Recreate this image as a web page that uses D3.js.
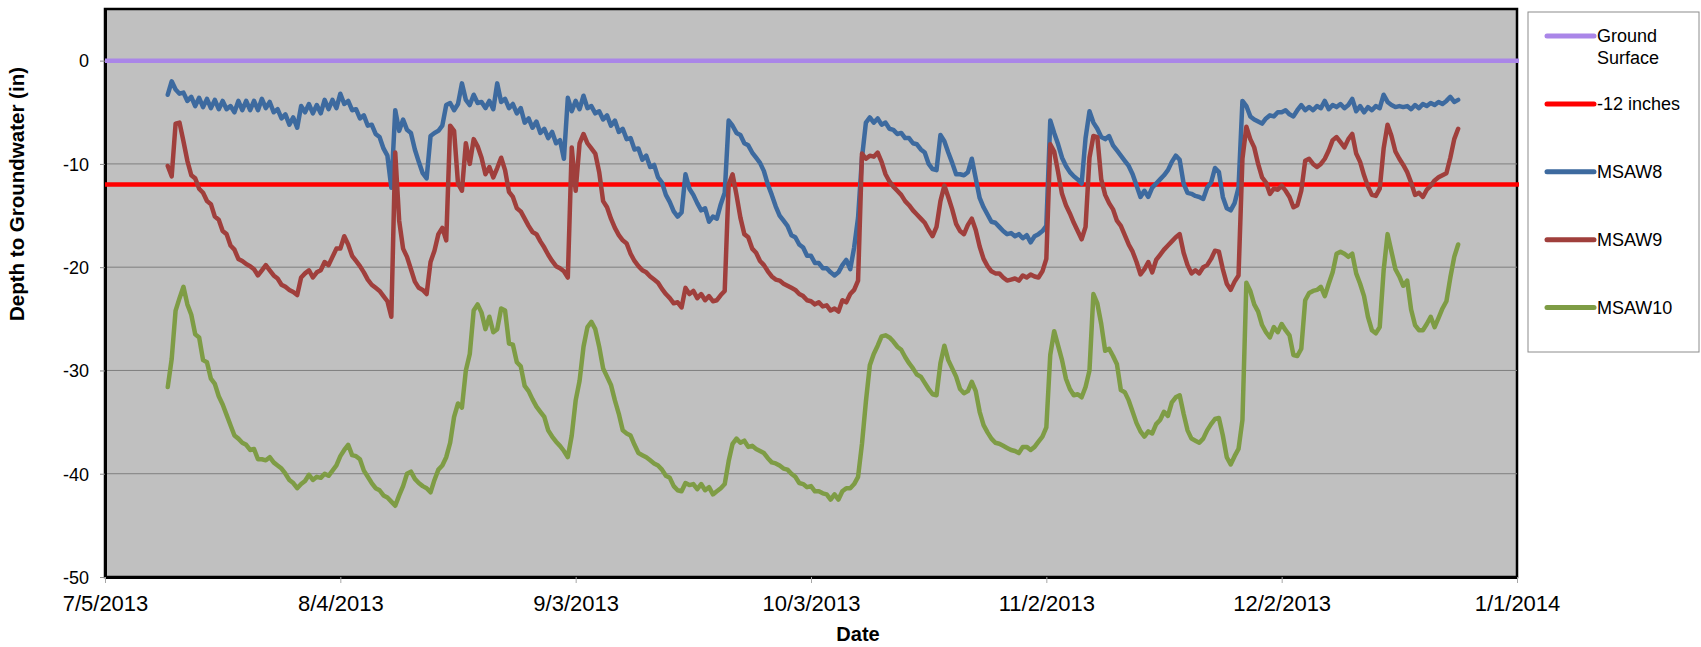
<!DOCTYPE html>
<html>
<head>
<meta charset="utf-8">
<script src="https://cdn.jsdelivr.net/npm/d3@7"></script>
<style>
    body { margin: 0; background: #ffffff; }
    svg text { font-family: "Liberation Sans", Arial, sans-serif; fill: #000; }
</style>
</head>
<body>
<div id="groundwater"></div>
<script>

// well readings, one every 12 hours, first one at 7/13/2013 00:00
var startDate = "7/13/2013";
var stepHours = 12;

var msaw8 = [
    -3.3,-2.0,-2.8,-3.2,-3.1,-3.9,-3.5,-4.4,-3.6,-4.5,-3.7,-4.6,-3.8,-4.7,-3.9,-4.7,-4.4,-5.0,-3.9,-4.8,
    -3.9,-4.8,-3.9,-4.8,-3.7,-4.6,-4.0,-5.0,-4.7,-5.6,-5.2,-6.2,-5.5,-6.5,-4.4,-5.0,-4.2,-5.1,-4.3,-5.1,
    -3.8,-4.7,-3.8,-4.6,-3.2,-4.2,-3.9,-4.8,-4.7,-5.6,-5.3,-6.3,-6.2,-7.1,-7.4,-8.5,-9.2,-12.3,-4.8,-6.8,
    -5.7,-6.7,-7.0,-8.6,-9.8,-10.9,-11.4,-7.3,-7.0,-6.8,-6.3,-4.3,-4.1,-4.8,-4.2,-2.2,-3.8,-4.3,-3.3,-4.1,
    -4.0,-4.6,-3.9,-4.7,-2.2,-4.0,-3.7,-4.6,-4.2,-5.1,-4.6,-6.0,-5.6,-6.5,-5.9,-7.0,-6.6,-7.5,-6.9,-8.0,
    -7.7,-9.5,-3.6,-4.9,-3.9,-4.7,-3.4,-4.6,-4.4,-5.1,-4.9,-5.7,-5.3,-6.3,-5.8,-6.9,-6.6,-7.6,-7.5,-8.6,
    -8.5,-9.6,-9.2,-10.3,-10.1,-11.3,-11.8,-13.0,-13.7,-14.6,-15.1,-14.7,-11.0,-12.4,-13.0,-13.8,-14.5,-14.3,-15.6,-15.1,
    -15.3,-13.9,-12.8,-5.8,-6.3,-7.0,-7.2,-8.0,-8.2,-8.9,-9.4,-9.9,-10.7,-12.0,-13.0,-14.1,-15.0,-15.5,-16.0,-16.9,
    -17.1,-17.8,-18.1,-18.9,-18.9,-19.6,-19.6,-20.1,-20.1,-20.5,-20.8,-20.5,-19.8,-19.3,-20.2,-18.1,-15.2,-9.4,-6.0,-5.5,
    -6.0,-5.6,-6.2,-6.0,-6.6,-6.7,-7.1,-7.0,-7.5,-7.5,-8.0,-8.1,-8.6,-8.9,-10.0,-10.5,-10.6,-7.2,-7.8,-8.9,
    -9.9,-11.0,-11.0,-11.1,-10.8,-9.5,-11.4,-13.3,-14.2,-14.9,-15.6,-15.7,-16.1,-16.5,-16.8,-16.7,-17.0,-16.8,-17.2,-16.9,
    -17.6,-17.0,-16.8,-16.5,-16.0,-5.8,-7.0,-8.1,-9.4,-10.2,-10.8,-11.2,-11.5,-11.9,-7.5,-4.9,-6.0,-6.6,-7.4,-7.6,
    -7.3,-8.2,-8.7,-9.2,-9.7,-10.2,-11.0,-12.1,-13.2,-12.6,-13.2,-12.3,-11.9,-11.5,-11.1,-10.6,-9.8,-9.2,-9.6,-11.9,
    -12.8,-12.9,-13.1,-13.2,-13.4,-12.3,-11.8,-10.4,-10.8,-13.2,-14.3,-14.5,-13.8,-12.3,-3.9,-4.4,-5.4,-5.7,-5.9,-6.1,
    -5.6,-5.3,-5.4,-5.0,-5.0,-4.8,-5.2,-5.4,-4.8,-4.3,-4.8,-4.5,-4.8,-4.4,-4.6,-3.9,-4.7,-4.3,-4.5,-4.2,
    -4.6,-4.3,-3.7,-4.9,-4.4,-5.0,-4.5,-4.8,-4.4,-4.6,-3.3,-4.0,-4.3,-4.5,-4.4,-4.5,-4.4,-4.7,-4.3,-4.6,
    -4.2,-4.4,-4.1,-4.3,-4.0,-4.2,-3.9,-3.5,-4.0,-3.8
];

var msaw9 = [
    -10.2,-11.2,-6.1,-6.0,-7.8,-9.7,-11.1,-11.4,-12.4,-12.8,-13.6,-13.9,-15.1,-15.4,-16.5,-16.8,-17.9,-18.3,-19.2,-19.4,
    -19.7,-19.9,-20.2,-20.8,-20.3,-19.8,-20.3,-20.8,-21.1,-21.7,-21.9,-22.2,-22.4,-22.7,-21.0,-20.6,-20.3,-21.0,-20.5,-20.3,
    -19.5,-19.8,-19.0,-18.2,-18.2,-17.0,-17.8,-18.9,-19.4,-19.9,-20.5,-21.2,-21.7,-22.0,-22.3,-22.8,-23.3,-24.8,-8.9,-15.5,
    -18.2,-19.0,-20.2,-21.4,-22.0,-22.2,-22.6,-19.5,-18.4,-16.8,-16.2,-17.4,-6.3,-6.8,-11.9,-12.6,-8.0,-10.0,-7.6,-8.3,
    -9.4,-11.0,-10.3,-11.3,-10.4,-9.4,-10.6,-12.7,-13.2,-14.3,-14.6,-15.3,-16.0,-16.6,-16.8,-17.5,-18.1,-18.8,-19.4,-19.9,
    -20.1,-20.4,-21.0,-8.4,-12.6,-8.0,-7.1,-8.0,-8.5,-9.0,-10.8,-13.6,-14.2,-15.3,-16.2,-16.9,-17.4,-17.7,-18.7,-19.4,
    -19.9,-20.3,-20.5,-20.9,-21.2,-21.5,-22.1,-22.6,-23.0,-23.5,-23.4,-23.9,-22.0,-22.6,-22.3,-23.0,-22.6,-23.2,-22.8,-23.3,
    -23.2,-22.7,-22.3,-12.0,-11.0,-13.0,-15.2,-16.8,-17.1,-18.2,-18.6,-19.4,-19.8,-20.4,-20.9,-21.2,-21.3,-21.6,-21.8,-22.0,
    -22.2,-22.6,-22.8,-23.2,-23.3,-23.6,-23.4,-23.8,-23.7,-24.2,-24.0,-24.3,-23.2,-23.4,-22.6,-22.2,-21.3,-9.0,-9.5,-9.2,
    -9.3,-8.9,-9.8,-11.0,-11.7,-12.2,-12.6,-13.0,-13.6,-14.0,-14.5,-14.9,-15.3,-15.7,-16.4,-17.0,-16.1,-13.6,-12.1,-13.2,
    -14.4,-15.8,-16.5,-16.8,-15.9,-15.3,-16.4,-18.0,-19.2,-19.9,-20.4,-20.6,-20.6,-21.0,-21.3,-21.2,-21.1,-21.3,-20.8,-21.0,
    -20.7,-20.9,-21.0,-20.4,-19.2,-8.1,-8.8,-10.8,-12.9,-14.0,-14.8,-15.7,-16.5,-17.3,-16.1,-9.4,-7.3,-7.4,-11.5,-13.0,
    -13.8,-14.4,-15.5,-16.0,-16.9,-17.8,-18.5,-19.5,-20.7,-20.2,-19.5,-20.5,-19.3,-18.8,-18.3,-17.9,-17.5,-17.1,-16.8,-18.6,
    -19.8,-20.6,-20.3,-20.6,-20.0,-19.8,-19.2,-18.4,-18.5,-20.2,-21.6,-22.2,-21.4,-20.8,-9.5,-6.4,-7.6,-8.4,-10.0,-11.3,
    -11.8,-12.9,-12.4,-12.5,-12.1,-12.6,-13.2,-14.2,-14.0,-12.6,-9.7,-9.5,-10.0,-10.3,-10.0,-9.5,-8.7,-7.7,-7.4,-7.9,
    -8.4,-7.6,-7.1,-9.0,-9.8,-11.1,-12.2,-13.0,-13.1,-12.4,-8.5,-6.2,-7.3,-8.8,-9.5,-10.1,-10.8,-11.8,-13.0,-12.8,
    -13.2,-12.5,-12.1,-11.6,-11.3,-11.1,-10.9,-9.4,-7.6,-6.6
];

var msaw10 = [
    -31.6,-28.9,-24.2,-23.0,-21.9,-23.6,-24.6,-26.5,-26.8,-29.0,-29.2,-30.8,-31.3,-32.5,-33.3,-34.3,-35.3,-36.3,-36.6,-37.0,
    -37.2,-37.7,-37.6,-38.6,-38.6,-38.7,-38.4,-38.9,-39.2,-39.5,-40.0,-40.6,-40.9,-41.4,-41.0,-40.7,-40.1,-40.6,-40.3,-40.4,
    -40.0,-40.2,-39.7,-39.2,-38.3,-37.7,-37.2,-38.2,-38.3,-38.6,-39.7,-40.3,-40.9,-41.4,-41.6,-42.1,-42.3,-42.7,-43.1,-42.1,
    -41.2,-40.0,-39.8,-40.5,-40.9,-41.2,-41.4,-41.8,-40.6,-39.6,-39.2,-38.4,-37.0,-34.5,-33.2,-33.6,-30.0,-28.4,-24.2,-23.6,
    -24.4,-26.0,-24.8,-26.3,-26.0,-24.0,-24.2,-27.4,-27.5,-29.2,-29.6,-31.5,-32.0,-32.8,-33.5,-34.0,-34.5,-35.8,-36.4,-36.9,
    -37.3,-37.8,-38.4,-36.3,-32.9,-31.0,-27.7,-25.8,-25.3,-26.0,-27.7,-29.8,-30.6,-31.4,-32.9,-34.2,-35.8,-36.1,-36.3,-37.2,
    -38.0,-38.2,-38.4,-38.7,-39.0,-39.2,-39.6,-40.2,-40.4,-41.2,-41.6,-41.7,-40.9,-41.1,-41.0,-41.5,-41.0,-41.6,-41.3,-42.0,
    -41.7,-41.4,-41.0,-38.8,-37.1,-36.6,-37.0,-36.8,-37.4,-37.3,-37.6,-37.8,-38.0,-38.5,-38.9,-39.0,-39.2,-39.5,-39.6,-40.0,
    -40.3,-40.9,-41.0,-41.3,-41.2,-41.7,-41.7,-41.9,-42.0,-42.5,-42.0,-42.5,-41.7,-41.4,-41.4,-41.0,-40.3,-37.1,-33.0,-29.5,
    -28.4,-27.6,-26.7,-26.6,-26.8,-27.2,-27.7,-28.0,-28.7,-29.3,-29.8,-30.4,-30.6,-31.2,-31.8,-32.3,-32.4,-29.3,-27.6,-29.0,
    -29.8,-30.6,-31.8,-32.2,-32.0,-31.1,-32.0,-34.0,-35.3,-36.0,-36.6,-37.0,-37.1,-37.3,-37.5,-37.7,-37.8,-38.0,-37.4,-37.4,
    -37.7,-37.4,-36.9,-36.4,-35.5,-28.5,-26.2,-27.6,-29.0,-30.8,-31.8,-32.4,-32.3,-32.6,-31.6,-30.0,-22.6,-23.5,-25.5,-28.1,
    -27.9,-28.6,-29.4,-31.9,-32.1,-32.9,-34.0,-35.1,-35.9,-36.4,-35.9,-36.1,-35.2,-34.8,-34.0,-34.4,-33.1,-32.6,-32.4,-34.2,
    -35.8,-36.6,-36.8,-37.0,-36.6,-35.8,-35.2,-34.7,-34.6,-36.3,-38.4,-39.1,-38.3,-37.6,-34.8,-21.5,-22.3,-23.6,-24.3,-25.6,
    -26.3,-26.8,-25.8,-26.3,-25.5,-26.1,-26.6,-28.5,-28.6,-27.9,-23.2,-22.5,-22.3,-22.2,-21.9,-22.8,-21.6,-20.5,-18.7,-18.5,
    -18.7,-19.0,-18.7,-20.6,-21.6,-22.8,-24.8,-26.1,-26.4,-25.8,-20.3,-16.8,-18.5,-20.2,-20.9,-21.8,-21.3,-24.1,-25.6,-26.1,
    -26.1,-25.5,-24.8,-25.8,-24.9,-24.0,-23.3,-21.0,-19.0,-17.8
];

var groundSurface = 0;
var targetDepth = -12;

var yTicks = [-50, -40, -30, -20, -10, 0];
var yDomain = [-50, 5];
var xTickLabels = ["7/5/2013", "8/4/2013", "9/3/2013", "10/3/2013", "11/2/2013", "12/2/2013", "1/1/2014"];
var legendNames = ["Ground Surface", "-12 inches", "MSAW8", "MSAW9", "MSAW10"];

/**
 * Constructor for the groundwater depth chart
 */
function GroundwaterChart(){
    var self = this;
    self.init();
};

/**
 * Sets up the svg, the scales and the plot area
 */
GroundwaterChart.prototype.init = function(){
    var self = this;
    self.width = 1701;
    self.height = 647;
    self.plot = {left: 105, right: 1517, top: 9, bottom: 577};

    self.colors = {
        "Ground Surface": "#aa86e8",
        "-12 inches": "#ff0000",
        "MSAW8": "#3d6a9f",
        "MSAW9": "#a03f3c",
        "MSAW10": "#7e9c45"
    };

    self.svg = d3.select("#groundwater").append("svg")
        .attr("width", self.width)
        .attr("height", self.height);

    self.parse = d3.utcParse("%m/%d/%Y");
    self.tickDates = xTickLabels.map(function(s){ return self.parse(s); });

    self.x = d3.scaleUtc()
        .domain([self.tickDates[0], self.tickDates[self.tickDates.length - 1]])
        .range([self.plot.left, self.plot.right]);

    self.y = d3.scaleLinear()
        .domain(yDomain)
        .range([self.plot.bottom, self.plot.top]);

    // grey plot area with its frame
    self.svg.append("rect")
        .attr("x", self.plot.left)
        .attr("y", self.plot.top)
        .attr("width", self.plot.right - self.plot.left)
        .attr("height", self.plot.bottom - self.plot.top)
        .attr("fill", "#c0c0c0")
        .attr("stroke", "#000")
        .attr("stroke-width", 2.5);
};

/**
 * Draws gridlines, axes, the lines and the legend
 */
GroundwaterChart.prototype.update = function(){
    var self = this;
    var x = self.x, y = self.y;

    //gridlines
    self.svg.append("g").selectAll("line")
        .data(yTicks.filter(function(v){ return v > yDomain[0]; }))
        .enter().append("line")
        .attr("x1", self.plot.left)
        .attr("x2", self.plot.right)
        .attr("y1", function(d){ return y(d); })
        .attr("y2", function(d){ return y(d); })
        .attr("stroke", "#7f7f7f")
        .attr("stroke-width", 1);

    //y axis, plain hyphen for the minus sign
    var yAxis = self.svg.append("g")
        .attr("transform", "translate(" + self.plot.left + ",0)")
        .call(d3.axisLeft(y).tickValues(yTicks).tickSize(5).tickSizeOuter(0).tickPadding(11)
            .tickFormat(function(d){ return String(d); }));
    yAxis.select(".domain").attr("stroke", "#000").attr("stroke-width", 3);
    yAxis.selectAll(".tick line").attr("stroke", "#8c8c8c");
    yAxis.selectAll(".tick text")
        .style("font-size", "18px")
        .attr("dy", "0.35em");

    //x axis
    var xAxis = self.svg.append("g")
        .attr("transform", "translate(0," + self.plot.bottom + ")")
        .call(d3.axisBottom(x).tickValues(self.tickDates).tickSize(6).tickSizeOuter(0)
            .tickFormat(function(d, i){ return xTickLabels[i]; }));
    xAxis.select(".domain").attr("stroke", "#000").attr("stroke-width", 3);
    xAxis.selectAll(".tick line").attr("stroke", "#a6a6a6");
    xAxis.selectAll(".tick text")
        .style("font-size", "22px")
        .attr("y", 34)
        .attr("dy", null);

    //axis titles
    self.svg.append("text")
        .attr("transform", "translate(24,194) rotate(-90)")
        .attr("text-anchor", "middle")
        .style("font-size", "20.5px")
        .style("font-weight", "bold")
        .text("Depth to Groundwater (in)");

    self.svg.append("text")
        .attr("x", 858)
        .attr("y", 641)
        .attr("text-anchor", "middle")
        .style("font-size", "20px")
        .style("font-weight", "bold")
        .text("Date");

    //reference lines across the whole period
    var refs = [
        {name: legendNames[0], value: groundSurface},
        {name: legendNames[1], value: targetDepth}
    ];
    self.svg.append("g").selectAll("line")
        .data(refs)
        .enter().append("line")
        .attr("x1", x.range()[0])
        .attr("x2", x.range()[1] + 2)
        .attr("y1", function(d){ return y(d.value); })
        .attr("y2", function(d){ return y(d.value); })
        .attr("stroke", function(d){ return self.colors[d.name]; })
        .attr("stroke-width", 4.5);

    //well series
    var start = self.parse(startDate);
    var toPoints = function(values){
        return values.map(function(v, i){
            return {date: new Date(start.getTime() + i * stepHours * 3600000), value: v};
        });
    };
    var wells = [
        {name: legendNames[2], points: toPoints(msaw8)},
        {name: legendNames[3], points: toPoints(msaw9)},
        {name: legendNames[4], points: toPoints(msaw10)}
    ];

    var line = d3.line()
        .x(function(d){ return x(d.date); })
        .y(function(d){ return y(d.value); });

    self.svg.append("g").selectAll("path")
        .data(wells)
        .enter().append("path")
        .attr("d", function(d){ return line(d.points); })
        .attr("fill", "none")
        .attr("stroke", function(d){ return self.colors[d.name]; })
        .attr("stroke-width", 4.5)
        .attr("stroke-linejoin", "round")
        .attr("stroke-linecap", "round");

    //legend
    var legend = self.svg.append("g");
    legend.append("rect")
        .attr("x", 1528)
        .attr("y", 12)
        .attr("width", 171)
        .attr("height", 340)
        .attr("fill", "#fff")
        .attr("stroke", "#8c8c8c")
        .attr("stroke-width", 1);

    var rows = legend.selectAll("g")
        .data(legendNames)
        .enter().append("g")
        .attr("transform", function(d, i){ return "translate(1547," + (36 + i * 67.9) + ")"; });

    rows.append("line")
        .attr("x1", 0)
        .attr("x2", 47)
        .attr("stroke", function(d){ return self.colors[d]; })
        .attr("stroke-width", 5)
        .attr("stroke-linecap", "round");

    rows.append("text")
        .attr("x", 50)
        .style("font-size", "18px")
        .each(function(d){
            var words = d == "Ground Surface" ? ["Ground", "Surface"] : [d];
            d3.select(this).selectAll("tspan")
                .data(words)
                .enter().append("tspan")
                .attr("x", 50)
                .attr("y", function(w, j){ return j * 21.5; })
                .attr("dy", "0.35em")
                .text(function(w){ return w; });
        });
};

var chart = new GroundwaterChart();
chart.update();

</script>
</body>
</html>
